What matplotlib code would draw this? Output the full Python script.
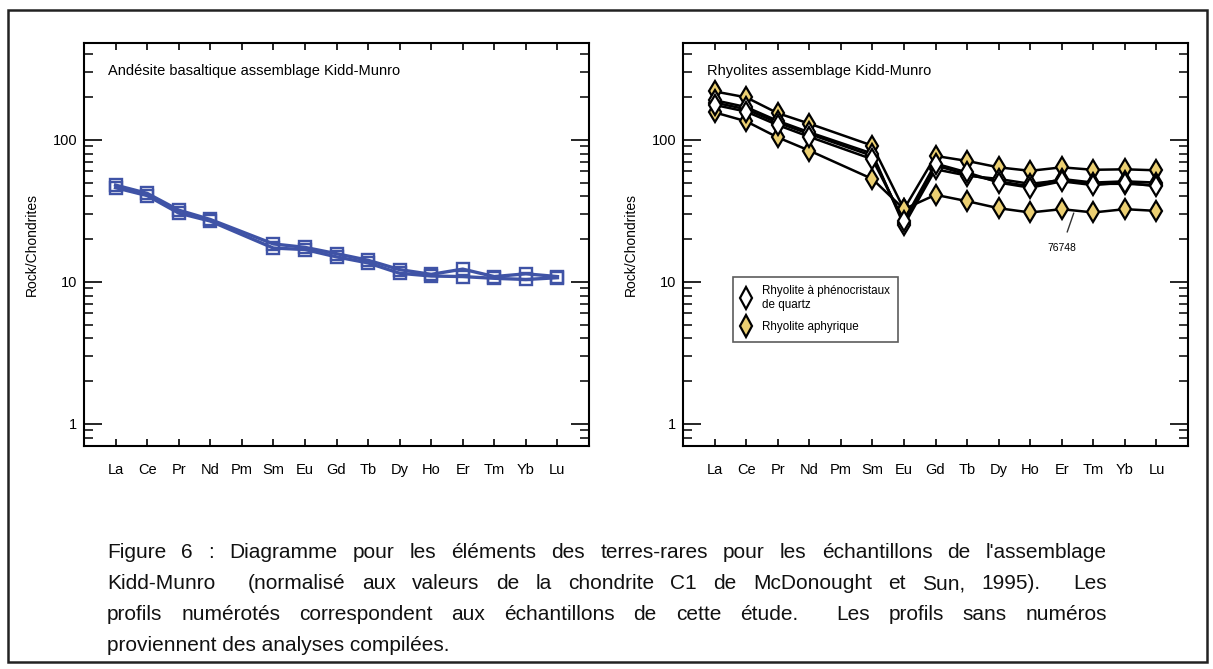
import matplotlib
matplotlib.use("Agg")
import matplotlib.pyplot as plt
from matplotlib.ticker import LogLocator, NullFormatter, FixedLocator
from matplotlib.patches import Rectangle

elements = ["La", "Ce", "Pr", "Nd", "Pm", "Sm", "Eu", "Gd", "Tb", "Dy", "Ho", "Er", "Tm", "Yb", "Lu"]
# Pm is not analysed: the profiles jump from Nd to Sm
measured = ["La", "Ce", "Pr", "Nd", "Sm", "Eu", "Gd", "Tb", "Dy", "Ho", "Er", "Tm", "Yb", "Lu"]

andesite_1 = [48, 42, 32, 27.5, 18.5, 17.5, 15.8, 14.2, 12.2, 11.3, 12.3, 10.9, 11.4, 10.9]
andesite_2 = [46, 40.5, 30.5, 26.8, 17.3, 16.9, 15.0, 13.6, 11.5, 11.0, 10.9, 10.6, 10.4, 10.7]

qz_1 = [183, 164, 132, 110, 77, 26, 66, 57, 51, 47, 53, 50, 51, 50]
qz_2 = [190, 170, 136, 113, 80, 25, 62, 56, 53, 49, 52, 49, 49, 48]
qz_3 = [176, 158, 127, 105, 73, 27, 68, 59, 50, 46, 51, 48, 50, 47]
aph_1 = [219, 199, 154, 130, 91, 32.5, 77, 71, 64, 60.5, 64, 61.5, 62, 61]
aph_76748 = [156, 135, 104, 84, 53, 32.5, 41, 37, 33, 30.8, 32.5, 30.8, 32.5, 31.6]

caption = [
    "Figure 6 : Diagramme pour les éléments des terres-rares pour les échantillons de l'assemblage",
    "Kidd-Munro  (normalisé aux valeurs de la chondrite C1 de McDonought et Sun, 1995).  Les",
    "profils numérotés correspondent aux échantillons de cette étude.  Les profils sans numéros",
    "proviennent des analyses compilées.",
]

plt.rcParams["font.family"] = ["Liberation Sans", "DejaVu Sans"]

blue = "#3f53a6"
yellow = "#ebcf72"

fig = plt.figure(figsize=(12.13, 6.69), dpi=100)
fig.patches.append(Rectangle((8 / 1213, 1 - 662 / 669), 1199 / 1213, 652 / 669,
                             transform=fig.transFigure, fill=False, lw=1.8,
                             edgecolor="#222222"))

ax1 = fig.add_axes([84 / 1213, 1 - 446 / 669, 505 / 1213, 403 / 669])
ax2 = fig.add_axes([683 / 1213, 1 - 446 / 669, 505 / 1213, 403 / 669])

xpos = {e: i for i, e in enumerate(elements)}
xs = [xpos[e] for e in measured]

for ys in [andesite_1, andesite_2]:
    ax1.plot(xs, ys, color=blue, lw=2.4, marker="s", ms=9, mfc="none",
             mec=blue, mew=1.7)

for ys in [aph_76748, aph_1]:
    ax2.plot(xs, ys, color="black", lw=1.8, marker="d", ms=10, mfc=yellow,
             mec="black", mew=1.6)
for ys in [qz_1, qz_2, qz_3]:
    ax2.plot(xs, ys, color="black", lw=1.8, marker="d", ms=10, mfc="white",
             mec="black", mew=1.6)

for ax, ttl in [(ax1, "Andésite basaltique assemblage Kidd-Munro"),
                (ax2, "Rhyolites assemblage Kidd-Munro")]:
    ax.set_yscale("log")
    ax.set_ylim(0.7, 480)
    ax.set_xlim(-1, 15)
    ax.xaxis.set_major_locator(FixedLocator(range(len(elements))))
    ax.set_xticklabels(elements, fontsize=10.5)
    ax.yaxis.set_major_locator(FixedLocator([1, 10, 100]))
    ax.set_yticklabels(["1", "10", "100"], fontsize=10.5)
    ax.yaxis.set_minor_locator(LogLocator(base=10, subs=range(2, 10)))
    ax.yaxis.set_minor_formatter(NullFormatter())
    ax.tick_params(axis="y", which="major", direction="in", length=13, width=1.2,
                   left=True, right=True, pad=5)
    ax.tick_params(axis="y", which="minor", direction="in", length=6.5, width=1.1,
                   left=True, right=True)
    ax.tick_params(axis="x", which="major", direction="in", length=5, width=1.2,
                   top=True, bottom=True, pad=12)
    for s in ax.spines.values():
        s.set_linewidth(1.5)
    ax.set_ylabel("Rock/Chondrites", fontsize=10, labelpad=10)
    ax.text(0.048, 0.93, ttl, transform=ax.transAxes, fontsize=10.5,
            ha="left", va="center")

ax2.annotate("76748", xy=(11.38, 30.5), xytext=(11.0, 17.4), fontsize=7.5,
             ha="center", va="center",
             arrowprops=dict(arrowstyle="-", color="#333333", lw=1,
                             shrinkA=6, shrinkB=0))

leg = ax2.legend(
    handles=[plt.Line2D([], [], ls="none", marker="d", ms=11, mfc="white", mec="black", mew=1.6),
             plt.Line2D([], [], ls="none", marker="d", ms=11, mfc=yellow, mec="black", mew=1.6)],
    labels=["Rhyolite à phénocristaux\nde quartz", "Rhyolite aphyrique"],
    loc="upper left", bbox_to_anchor=((733 - 683) / 505, (446 - 277) / 403),
    fontsize=8.4, frameon=True, fancybox=False, edgecolor="#333333",
    handlelength=0.8, handletextpad=1.0, borderpad=0.7, labelspacing=0.9,
    borderaxespad=0)
leg.get_frame().set_linewidth(1.2)

# caption, justified between x=107 and x=1107 like the original
renderer = fig.canvas.get_renderer()
x0, x1 = 107, 1107
fs = 15
for i, line in enumerate(caption):
    y = 1 - (553 + i * 30.7) / 669
    words = line.split(" ")
    if i == len(caption) - 1:
        fig.text(x0 / 1213, y, line, fontsize=fs, ha="left", va="center", color="#111111")
        continue
    arts = [fig.text(0, y, w, fontsize=fs, ha="left", va="center", color="#111111")
            for w in words]
    widths = [a.get_window_extent(renderer).width if w else 0 for a, w in zip(arts, words)]
    gap = (x1 - x0 - sum(widths)) / (len(words) - 1)
    x = x0
    for a, wd in zip(arts, widths):
        a.set_x(x / 1213)
        x += wd + gap

fig.savefig("out.png", dpi=100)
